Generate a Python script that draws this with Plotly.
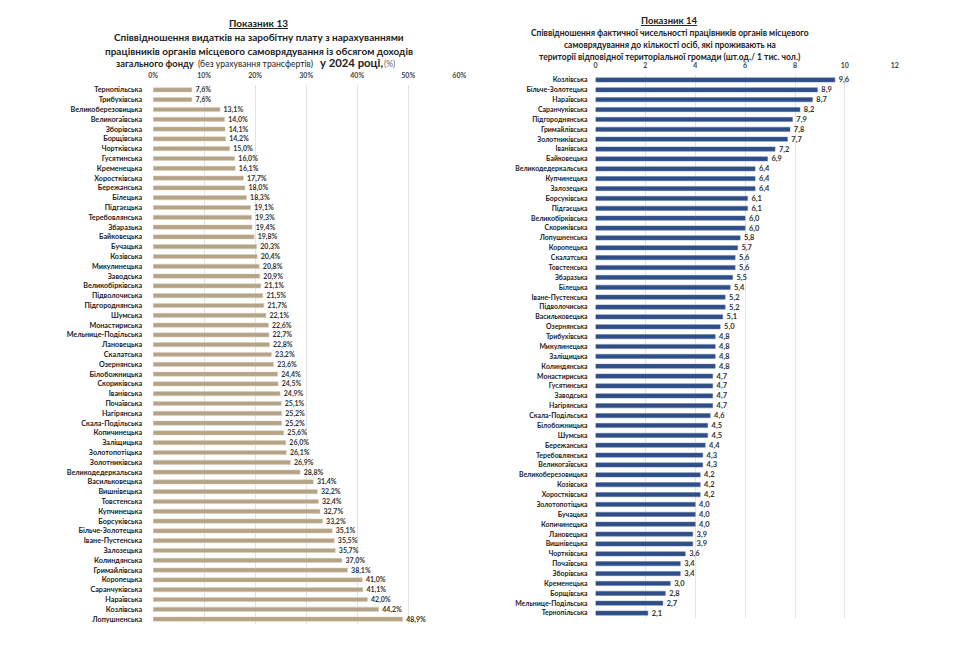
import plotly.graph_objects as go

# ---- Data: Показник 13 ----
cat13 = ["Тернопільська", "Трибухівська", "Великоберезовицька", "Великогаївська", "Зборівська",
         "Борщівська", "Чортківська", "Гусятинська", "Кременецька", "Хоростківська",
         "Бережанська", "Білецька", "Підгаєцька", "Теребовлянська", "Збаразька",
         "Байковецька", "Бучацька", "Козівська", "Микулинецька", "Заводська",
         "Великобірківська", "Підволочиська", "Підгороднянська", "Шумська", "Монастириська",
         "Мельнице-Подільська", "Лановецька", "Скалатська", "Озернянська", "Білобожницька",
         "Скориківська", "Іванівська", "Почаївська", "Нагірянська", "Скала-Подільська",
         "Копичинецька", "Заліщицька", "Золотопотіцька", "Золотниківська", "Великодедеркальська",
         "Васильковецька", "Вишнівецька", "Товстенська", "Купчинецька", "Борсуківська",
         "Більче-Золотецька", "Іване-Пустенська", "Залозецька", "Колиндянська", "Гримайлівська",
         "Коропецька", "Саранчуківська", "Нараївська", "Козлівська", "Лопушненська"]
val13 = [7.6, 7.6, 13.1, 14.0, 14.1, 14.2, 15.0, 16.0, 16.1, 17.7,
         18.0, 18.3, 19.1, 19.3, 19.4, 19.8, 20.3, 20.4, 20.8, 20.9,
         21.1, 21.5, 21.7, 22.1, 22.6, 22.7, 22.8, 23.2, 23.6, 24.4,
         24.5, 24.9, 25.1, 25.2, 25.2, 25.6, 26.0, 26.1, 26.9, 28.8,
         31.4, 32.2, 32.4, 32.7, 33.2, 35.1, 35.5, 35.7, 37.0, 38.1,
         41.0, 41.1, 42.0, 44.2, 48.9]
ticks13 = [0, 10, 20, 30, 40, 50, 60]

# ---- Data: Показник 14 ----
cat14 = ["Козлівська", "Більче-Золотецька", "Нараївська", "Саранчуківська", "Підгороднянська",
         "Гримайлівська", "Золотниківська", "Іванівська", "Байковецька", "Великодедеркальська",
         "Купчинецька", "Залозецька", "Борсуківська", "Підгаєцька", "Великобірківська",
         "Скориківська", "Лопушненська", "Коропецька", "Скалатська", "Товстенська",
         "Збаразька", "Білецька", "Іване-Пустенська", "Підволочиська", "Васильковецька",
         "Озернянська", "Трибухівська", "Микулинецька", "Заліщицька", "Колиндянська",
         "Монастириська", "Гусятинська", "Заводська", "Нагірянська", "Скала-Подільська",
         "Білобожницька", "Шумська", "Бережанська", "Теребовлянська", "Великогаївська",
         "Великоберезовицька", "Козівська", "Хоростківська", "Золотопотіцька", "Бучацька",
         "Копичинецька", "Лановецька", "Вишнівецька", "Чортківська", "Почаївська",
         "Зборівська", "Кременецька", "Борщівська", "Мельнице-Подільська", "Тернопільська"]
val14 = [9.6, 8.9, 8.7, 8.2, 7.9, 7.8, 7.7, 7.2, 6.9, 6.4,
         6.4, 6.4, 6.1, 6.1, 6.0, 6.0, 5.8, 5.7, 5.6, 5.6,
         5.5, 5.4, 5.2, 5.2, 5.1, 5.0, 4.8, 4.8, 4.8, 4.8,
         4.7, 4.7, 4.7, 4.7, 4.6, 4.5, 4.5, 4.4, 4.3, 4.3,
         4.2, 4.2, 4.2, 4.0, 4.0, 4.0, 3.9, 3.9, 3.6, 3.4,
         3.4, 3.0, 2.8, 2.7, 2.1]
ticks14 = [0, 2, 4, 6, 8, 10, 12]

FONT = "Lato, Liberation Sans, sans-serif"
W, H = 960, 651

def px(x):
    return x / W

def py(y):
    return 1 - y / H

fig = go.Figure()

fig.add_trace(go.Bar(
    y=cat13, x=val13, orientation="h",
    marker=dict(color="#b4a386", line=dict(color="#d9cdb6", width=0.5)),
    text=val13, texttemplate="\u00a0\u00a0<b>%{x:.1f}%</b>", textposition="outside",
    constraintext="none",
    textfont=dict(size=7, color="#333333", family=FONT),
    cliponaxis=False, xaxis="x", yaxis="y", showlegend=False,
))

fig.add_trace(go.Bar(
    y=cat14, x=val14, orientation="h",
    marker=dict(color="#2f4d86", line=dict(color="#5a74a6", width=0.5)),
    text=val14, texttemplate="\u00a0\u00a0<b>%{x:.1f}</b>", textposition="outside",
    constraintext="none",
    textfont=dict(size=7.5, color="#333333", family=FONT),
    cliponaxis=False, xaxis="x2", yaxis="y2", showlegend=False,
))

fig.update_layout(
    width=W, height=H,
    margin=dict(l=0, r=0, t=0, b=0),
    paper_bgcolor="white", plot_bgcolor="white",
    separators=", ",
    bargap=0.57,
    font=dict(family=FONT, color="#333333"),
    xaxis=dict(domain=[px(150), px(460)], range=[0, 60], side="top",
               tickvals=ticks13, ticktext=[f"<b>{t}%</b>" for t in ticks13],
               tickfont=dict(size=7, color="#444444"),
               showgrid=True, gridcolor="#e3e3e3", gridwidth=1,
               zeroline=False, showline=False, ticks="", ticklabelstandoff=5, anchor="y"),
    yaxis=dict(domain=[py(624), py(85)], autorange="reversed",
               categoryorder="array", categoryarray=cat13,
               tickfont=dict(size=7.2, color="#222222"),
               tickvals=cat13, ticktext=[f"<b>{c}</b>" for c in cat13],
               showgrid=False, zeroline=False, showline=False, ticks="",
               ticklabelstandoff=10, anchor="x"),
    xaxis2=dict(domain=[px(598), px(901)], range=[0, 12], side="top",
                tickvals=ticks14, ticktext=[f"<b>{t}</b>" for t in ticks14],
                tickfont=dict(size=7, color="#444444"),
                showgrid=True, gridcolor="#e3e3e3", gridwidth=1,
                zeroline=False, showline=False, ticks="", ticklabelstandoff=5, anchor="y2"),
    yaxis2=dict(domain=[py(618), py(75)], autorange="reversed",
                categoryorder="array", categoryarray=cat14,
                tickfont=dict(size=6.9, color="#222222"),
                tickvals=cat14, ticktext=[f"<b>{c}</b>" for c in cat14],
                showgrid=False, zeroline=False, showline=False, ticks="",
                ticklabelstandoff=7, anchor="x2"),
)

title13 = [
    ("<b><u>Показник 13</u></b>", 23, 10),
    ("<b>Співвідношення видатків на заробітну плату з нарахуваннями</b>", 37, 10),
    ("<b>працівників органів місцевого самоврядування із обсягом доходів</b>", 51, 10),
]
for txt, y, size in title13:
    fig.add_annotation(text=txt, x=px(257), y=py(y), xref="paper", yref="paper",
                       xanchor="center", yanchor="middle", showarrow=False,
                       font=dict(size=size, color="#222222", family=FONT))

# last title line built from left-anchored pieces sharing a bottom edge
line4 = [
    ("<b>загального фонду</b>", 110, 9.3, "#222222"),
    ("(без урахування трансфертів)", 193, 8.6, "#222222"),
    ("<b>у 2024 році,</b>", 317, 11.3, "#222222"),
    ("(%)", 382, 8.5, "#666666"),
]
for txt, x, size, col in line4:
    fig.add_annotation(text=txt, x=px(x), y=py(71), xref="paper", yref="paper",
                       xanchor="left", yanchor="bottom", showarrow=False,
                       font=dict(size=size, color=col, family=FONT))

title14 = [
    ("<b><u>Показник 14</u></b>", 21, 9.5),
    ("<b>Співвідношення фактичної чисельності працівників органів місцевого</b>", 33, 8.5),
    ("<b>самоврядування до кількості осіб, які проживають на</b>", 45, 8.5),
    ("<b>території відповідної територіальної громади (шт.од./ 1 тис. чол.)</b>", 56.5, 8.5),
]
for txt, y, size in title14:
    fig.add_annotation(text=txt, x=px(673), y=py(y), xref="paper", yref="paper",
                       xanchor="center", yanchor="middle", showarrow=False,
                       font=dict(size=size, color="#222222", family=FONT))

fig.write_html("out.html", config={"displayModeBar": False},
               post_script="document.body.style.margin='0';document.body.style.overflow='hidden';")
